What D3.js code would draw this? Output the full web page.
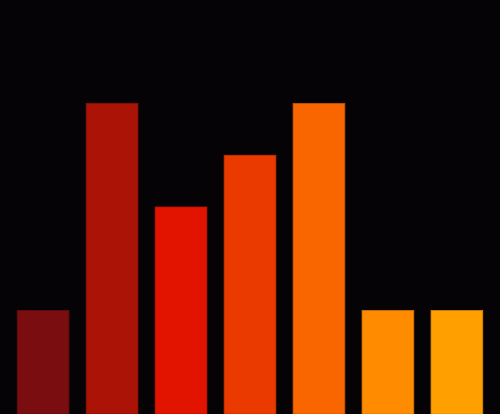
<!DOCTYPE html>
<html>
<head>
<meta charset="utf-8">
<script src="https://cdn.jsdelivr.net/npm/d3@7"></script>
<style>
  html, body { margin: 0; padding: 0; background: #050306; }
  svg { display: block; }
</style>
</head>
<body>
<div class="chart"></div>
<script>
// chart data
const categories = ['a', 'b', 'c', 'd', 'e', 'f', 'g'];
const values = [2, 6, 4, 5, 6, 2, 2];
const colors = ['#7a0d10', '#ab1306', '#e21400', '#ea3a00', '#f96600', '#ff8c00', '#ffa000'];

const width = 500;
const height = 414;

const svg = d3.select('.chart')
  .append('svg')
    .attr('width', width)
    .attr('height', height);

svg.append('rect')
  .attr('width', width)
  .attr('height', height)
  .attr('fill', '#050306');

const x = d3.scaleBand()
  .domain(categories)
  .range([0, width])
  .padding(0.25);

const y = d3.scaleLinear()
  .domain([0, 8])
  .range([height, 0]);

svg.selectAll('.bar')
  .data(values)
  .enter()
  .append('rect')
    .attr('class', 'bar')
    .attr('x', (d, i) => x(categories[i]))
    .attr('y', d => y(d))
    .attr('width', x.bandwidth())
    .attr('height', d => height - y(d))
    .attr('fill', (d, i) => colors[i])
    .attr('stroke', (d, i) => d3.color(colors[i]).darker(0.5))
    .attr('stroke-width', 0.8);
</script>
</body>
</html>
